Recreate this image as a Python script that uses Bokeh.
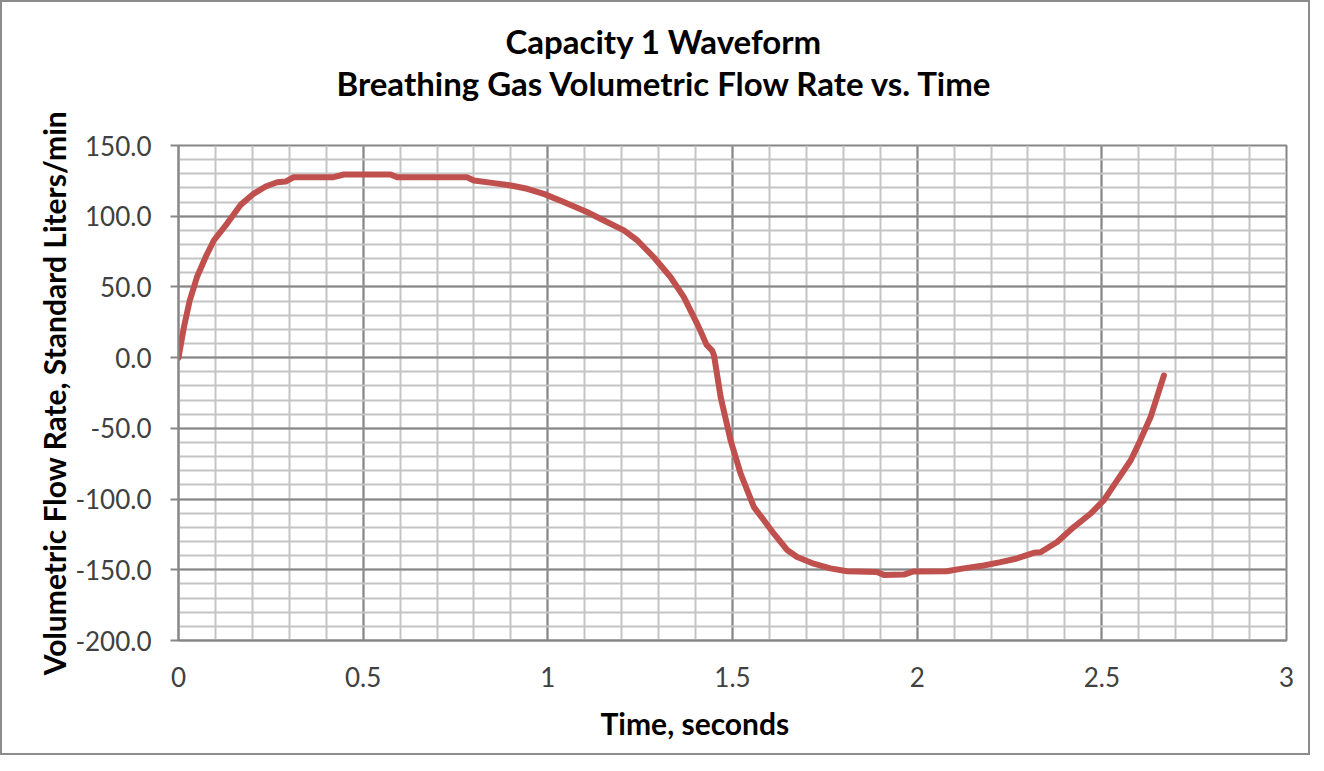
from bokeh.plotting import figure
from bokeh.models import (SingleIntervalTicker, NumeralTickFormatter, Range1d, Title, ColumnDataSource)
from bokeh.embed import file_html
from bokeh.resources import INLINE

# Data
time_s = [0, 0.015, 0.03, 0.05, 0.075, 0.096, 0.132, 0.168, 0.204, 0.236, 0.267,
          0.29, 0.312, 0.42, 0.448, 0.574, 0.592, 0.781, 0.8, 0.854, 0.9, 0.944,
          0.989, 1.043, 1.106, 1.152, 1.206, 1.242, 1.287, 1.332, 1.368, 1.404,
          1.413, 1.43, 1.445, 1.45, 1.468, 1.495, 1.522, 1.558, 1.585, 1.612,
          1.648, 1.675, 1.72, 1.765, 1.81, 1.891, 1.91, 1.964, 1.99, 2.08, 2.126,
          2.18, 2.226, 2.27, 2.316, 2.334, 2.379, 2.424, 2.469, 2.505, 2.541,
          2.578, 2.6, 2.632, 2.668]
flow_slpm = [0, 22, 40, 57, 72, 83, 95, 108, 116, 121, 124,
             124.5, 127.6, 127.6, 129.5, 129.5, 127.6, 127.6, 125.3, 123.4, 121.7, 119.4,
             115.8, 110, 103, 97, 90, 83, 71, 57, 43, 24,
             19, 9, 5, 1.5, -28, -58.6, -82, -105.7, -115, -124.5,
             -136, -141, -145.7, -149, -151, -151.6, -153.6, -153.4, -151.2, -151, -149,
             -147, -144.6, -142, -138, -137.6, -130.4, -119.8, -110.4, -101, -86.9,
             -72.7, -60.8, -42, -12.6]

title_lines = ["Capacity 1 Waveform", "Breathing Gas Volumetric Flow Rate vs. Time"]
x_label = "Time, seconds"
y_label = "Volumetric Flow Rate, Standard Liters/min"

FONT = "Lato"
MAJOR = "#868686"
MINOR = "#C4C4C4"
TXT = "#404040"

p = figure(frame_width=1108, frame_height=495,
           min_border_left=176, min_border_right=22, min_border_top=143, min_border_bottom=113,
           x_range=Range1d(0, 3), y_range=Range1d(-200, 150),
           output_backend="svg", toolbar_location=None, title=None,
           background_fill_color="white", border_fill_color="white",
           styles={"border": "2px solid #8C8C8C"})

p.xaxis.ticker = SingleIntervalTicker(interval=0.5, num_minor_ticks=5)
p.yaxis.ticker = SingleIntervalTicker(interval=50, num_minor_ticks=5)
p.xaxis.formatter = NumeralTickFormatter(format="0.[0]")
p.yaxis.formatter = NumeralTickFormatter(format="0.0")

for ax in (p.xaxis, p.yaxis):
    ax.axis_line_color = MAJOR
    ax.axis_line_width = 2
    ax.major_tick_line_color = MAJOR
    ax.major_tick_line_width = 2
    ax.minor_tick_line_color = None
    ax.major_tick_in = 0
    ax.major_label_text_font = FONT
    ax.major_label_text_font_size = "26px"
    ax.major_label_text_color = TXT
    ax.axis_label_text_font = FONT
    ax.axis_label_text_font_style = "bold"
    ax.axis_label_text_font_size = "30px"
    ax.axis_label_text_color = "black"

p.xaxis.major_tick_out = 0
p.xaxis.major_label_standoff = 22
p.yaxis.major_tick_out = 8
p.yaxis.major_label_standoff = 19
p.yaxis.axis_label = y_label
p.yaxis.axis_label_standoff = 0

for g in (p.xgrid, p.ygrid):
    g.grid_line_color = MAJOR
    g.grid_line_width = 2
    g.minor_grid_line_color = MINOR
    g.minor_grid_line_width = 2
p.outline_line_color = MAJOR
p.outline_line_width = 2

src = ColumnDataSource(dict(t=time_s, v=flow_slpm))
p.line("t", "v", source=src, line_color="#C0504D", line_width=6,
       line_join="round", line_cap="round")

# spacer between the plot frame and the two-line title
p.add_layout(Title(text=" ", standoff=40, text_font_size="1px"), "above")
for txt, off in [(title_lines[1], 158), (title_lines[0], 327)]:
    p.add_layout(Title(text=txt, align="left", offset=off, standoff=0,
                       text_font=FONT, text_font_style="bold", text_font_size="33px",
                       text_color="black"), "above")

p.add_layout(Title(text=x_label, align="left", offset=422, standoff=26,
                   text_font=FONT, text_font_style="bold", text_font_size="30px",
                   text_color="black"), "below")

open("out.html", "w").write(file_html(p, INLINE))
